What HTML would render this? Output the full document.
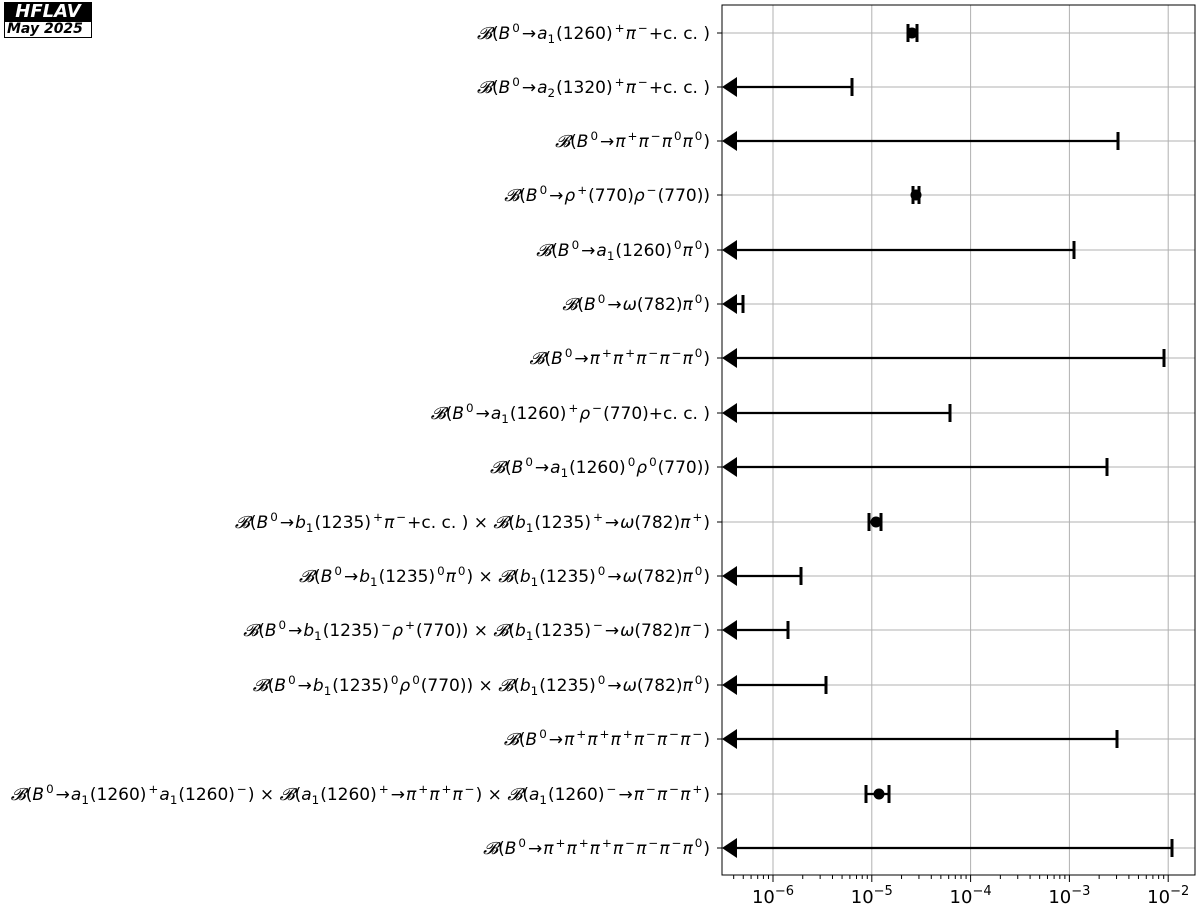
<!DOCTYPE html>
<html><head><meta charset="utf-8"><style>
body{margin:0;background:#fff;width:1200px;height:912px;overflow:hidden;position:relative;font-family:"DejaVu Sans",sans-serif}
.lab{position:absolute;right:490px;font-size:17px;white-space:nowrap;line-height:20px;transform:translateY(-9px)}
.lab i{font-family:"DejaVu Sans",sans-serif;font-style:oblique}
.ar{margin:0 1px}
sub,sup{font-size:70%;line-height:0}
.lab sup{margin:0 1px 0 2px}
.lab sub{margin:0 1px 0 0}
#logo{position:absolute;left:4px;top:2px;width:88px}
#l1{background:#000;color:#fff;font-weight:bold;font-style:italic;font-size:18px;text-align:center;height:19px;line-height:19px}
#l2{border:1px solid #000;font-weight:bold;font-style:italic;font-size:14px;height:15px;line-height:15px;padding-left:2px}
</style></head><body>
<div id="logo"><div id="l1">HFLAV</div><div id="l2">May 2025</div></div>
<svg id="s" width="1200" height="912" style="position:absolute;left:0;top:0"></svg>
<div id="labs"></div>
<script>
const X=l=>773+98.8*(l+6);
const rows=[33,87,141,195,250,304,358,413,467,522,576,630,685,739,794,848];
let g='';
for(let d=-6;d<=-2;d++){g+=`<line x1="${X(d)}" y1="5" x2="${X(d)}" y2="875" stroke="#b0b0b0" stroke-width="1"/>`;}
rows.forEach(y=>g+=`<line x1="722" y1="${y}" x2="1195" y2="${y}" stroke="#b0b0b0" stroke-width="1"/>`);
g+=`<rect x="722" y="5" width="473" height="870" fill="none" stroke="#000" stroke-width="1"/>`;
for(let d=-7;d<=-2;d++)for(let k=1;k<10;k++){const x=X(d+Math.log10(k));if(x<722||x>1195)continue;
g+=`<line x1="${x}" y1="875" x2="${x}" y2="${k==1?882:879}" stroke="#000"/>`;
if(k==1)g+=`<text x="${x}" y="903" font-size="18" text-anchor="middle" font-family="DejaVu Sans">10<tspan dy="-8" font-size="13">−${-d}</tspan></text>`;}
rows.forEach(y=>g+=`<line x1="717" y1="${y}" x2="722" y2="${y}" stroke="#000"/>`);
const pts={0:[912,908,917],3:[916,913,919],9:[876,869,881],14:[879,866,889]};
const ul={1:852,2:1118,4:1074,5:743,6:1164,7:950,8:1107,10:801,11:788,12:826,13:1117,15:1172};
for(const i in pts){const[y,[c,a,b]]=[rows[i],pts[i]];
g+=`<line x1="${a}" y1="${y}" x2="${b}" y2="${y}" stroke="#000" stroke-width="2.2"/><line x1="${a}" y1="${y-9}" x2="${a}" y2="${y+9}" stroke="#000" stroke-width="3"/><line x1="${b}" y1="${y-9}" x2="${b}" y2="${y+9}" stroke="#000" stroke-width="3"/><circle cx="${c}" cy="${y}" r="5.5"/>`;}
for(const i in ul){const y=rows[i],b=ul[i];
g+=`<line x1="730" y1="${y}" x2="${b}" y2="${y}" stroke="#000" stroke-width="2.2"/><line x1="${b}" y1="${y-9}" x2="${b}" y2="${y+9}" stroke="#000" stroke-width="3"/><polygon points="722,${y} 737,${y-10} 737,${y+10}"/>`;}
document.getElementById('s').innerHTML=g;
const A='<span class="ar">→</span>';
const B='<i>𝓑</i>(<i>B</i><sup>0</sup>'+A;
const a1='<i>a</i><sub>1</sub>(1260)',b1='<i>b</i><sub>1</sub>(1235)',pi='<i>π</i>',rho='<i>ρ</i>',om='<i>ω</i>(782)';
const L=[
B+a1+'<sup>+</sup>'+pi+'<sup>−</sup>+c. c. )',
B+'<i>a</i><sub>2</sub>(1320)<sup>+</sup>'+pi+'<sup>−</sup>+c. c. )',
B+pi+'<sup>+</sup>'+pi+'<sup>−</sup>'+pi+'<sup>0</sup>'+pi+'<sup>0</sup>)',
B+rho+'<sup>+</sup>(770)'+rho+'<sup>−</sup>(770))',
B+a1+'<sup>0</sup>'+pi+'<sup>0</sup>)',
B+om+pi+'<sup>0</sup>)',
B+pi+'<sup>+</sup>'+pi+'<sup>+</sup>'+pi+'<sup>−</sup>'+pi+'<sup>−</sup>'+pi+'<sup>0</sup>)',
B+a1+'<sup>+</sup>'+rho+'<sup>−</sup>(770)+c. c. )',
B+a1+'<sup>0</sup>'+rho+'<sup>0</sup>(770))',
B+b1+'<sup>+</sup>'+pi+'<sup>−</sup>+c. c. ) × <i>𝓑</i>('+b1+'<sup>+</sup>'+A+om+pi+'<sup>+</sup>)',
B+b1+'<sup>0</sup>'+pi+'<sup>0</sup>) × <i>𝓑</i>('+b1+'<sup>0</sup>'+A+om+pi+'<sup>0</sup>)',
B+b1+'<sup>−</sup>'+rho+'<sup>+</sup>(770)) × <i>𝓑</i>('+b1+'<sup>−</sup>'+A+om+pi+'<sup>−</sup>)',
B+b1+'<sup>0</sup>'+rho+'<sup>0</sup>(770)) × <i>𝓑</i>('+b1+'<sup>0</sup>'+A+om+pi+'<sup>0</sup>)',
B+pi+'<sup>+</sup>'+pi+'<sup>+</sup>'+pi+'<sup>+</sup>'+pi+'<sup>−</sup>'+pi+'<sup>−</sup>'+pi+'<sup>−</sup>)',
B+a1+'<sup>+</sup>'+a1+'<sup>−</sup>) × <i>𝓑</i>('+a1+'<sup>+</sup>'+A+pi+'<sup>+</sup>'+pi+'<sup>+</sup>'+pi+'<sup>−</sup>) × <i>𝓑</i>('+a1+'<sup>−</sup>'+A+pi+'<sup>−</sup>'+pi+'<sup>−</sup>'+pi+'<sup>+</sup>)',
B+pi+'<sup>+</sup>'+pi+'<sup>+</sup>'+pi+'<sup>+</sup>'+pi+'<sup>−</sup>'+pi+'<sup>−</sup>'+pi+'<sup>−</sup>'+pi+'<sup>0</sup>)'];
document.getElementById('labs').innerHTML=L.map((t,i)=>`<div class="lab" style="top:${rows[i]}px">${t}</div>`).join('');
</script>
</body></html>
